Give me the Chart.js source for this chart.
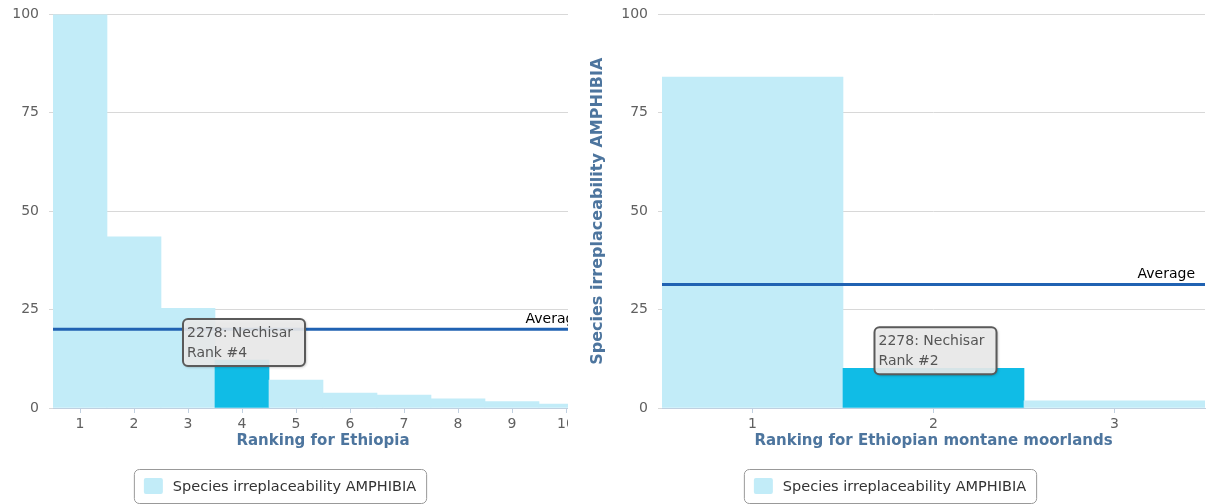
<!DOCTYPE html>
<html lang="en">
<head>
<meta charset="UTF-8">
<title>Species irreplaceability AMPHIBIA</title>
<script src="https://cdn.jsdelivr.net/npm/chart.js"></script>
<style>
  body { margin: 0; background: #fff; }
  #left { position: absolute; left: 0; top: 0; width: 568px; height: 504px; overflow: hidden; }
  #right { position: absolute; left: 580px; top: 0; width: 630px; height: 504px; overflow: hidden; }
  canvas { position: relative; top: -4px; }
</style>
</head>
<body>
<div id="left"><canvas id="ethiopiaChart" width="600" height="508"></canvas></div>
<div id="right"><canvas id="moorlandChart" width="630" height="508"></canvas></div>

<script>
// data
var ethiopiaRanks = ['1', '2', '3', '4', '5', '6', '7', '8', '9', '10'];
var ethiopiaValues = [100, 43.5, 25.3, 12.2, 7.1, 3.8, 3.3, 2.3, 1.6, 1.0];
var ethiopiaAverage = 20.0;
var ethiopiaHighlight = 3; // index of the Nechisar bar

var moorlandRanks = ['1', '2', '3'];
var moorlandValues = [84.1, 10.1, 1.8];
var moorlandAverage = 31.4;
var moorlandHighlight = 1;

var yTicks = [0, 25, 50, 75, 100];
var siteLabel = '2278: Nechisar';
var seriesName = 'Species irreplaceability AMPHIBIA';

var FONT = '"DejaVu Sans", sans-serif';
var LIGHT = '#c2ecf8';
var DARK = '#10bce6';
Chart.defaults.font.family = FONT;

// average line, site label box and the boxed legend
var extrasPlugin = {
    id: 'extras',
    afterDraw: function (chart, args, opts) {
        var ctx = chart.ctx;
        var area = chart.chartArea;
        var y = chart.scales.y.getPixelForValue(opts.average);
        ctx.save();

        ctx.strokeStyle = '#2062b2';
        ctx.lineWidth = 3;
        ctx.beginPath();
        ctx.moveTo(area.left, y);
        ctx.lineTo(area.right, y);
        ctx.stroke();
        ctx.font = '14px ' + FONT;
        ctx.fillStyle = '#000';
        ctx.textAlign = 'right';
        ctx.textBaseline = 'middle';
        ctx.fillText('Average', area.right - 10, y - 10);

        // label box over the highlighted bar
        var bar = chart.getDatasetMeta(0).data[opts.highlight];
        var w = 122, h = 47;
        var bx = bar.x - w / 2 + 2, by = bar.y + 6 - h;
        ctx.shadowColor = 'rgba(0,0,0,0.4)';
        ctx.shadowBlur = 3;
        ctx.shadowOffsetX = 1;
        ctx.shadowOffsetY = 1;
        ctx.beginPath();
        ctx.roundRect(bx, by, w, h, 5);
        ctx.fillStyle = 'rgba(243,243,243,0.88)';
        ctx.fill();
        ctx.shadowColor = 'transparent';
        ctx.lineWidth = 2;
        ctx.strokeStyle = '#5a5a5a';
        ctx.stroke();
        ctx.fillStyle = '#555';
        ctx.textAlign = 'left';
        ctx.fillText(siteLabel, bx + 4, by + 14);
        ctx.fillText('Rank #' + (opts.highlight + 1), bx + 4, by + 34);

        // legend
        ctx.font = '14.5px ' + FONT;
        var tw = ctx.measureText(seriesName).width;
        var lw = 39 + tw + 10, lh = 34;
        var lx = opts.legendX - lw / 2, ly = 473;
        ctx.beginPath();
        ctx.roundRect(lx + 0.5, ly + 0.5, lw, lh, 5);
        ctx.lineWidth = 1;
        ctx.strokeStyle = '#999';
        ctx.stroke();
        ctx.beginPath();
        ctx.roundRect(lx + 10, ly + 9, 19, 16, 2);
        ctx.fillStyle = LIGHT;
        ctx.fill();
        ctx.fillStyle = '#333';
        ctx.fillText(seriesName, lx + 39, ly + lh / 2 + 1);
        ctx.restore();
    }
};

function makeChart(id, ranks, values, highlight, average, xTitle, opt) {
    return new Chart(document.getElementById(id), {
        type: 'bar',
        data: {
            labels: ranks,
            datasets: [{
                label: seriesName,
                data: values,
                backgroundColor: values.map(function (v, i) { return i === highlight ? DARK : LIGHT; }),
                barPercentage: 1,
                categoryPercentage: 1,
                borderWidth: 0
            }]
        },
        options: {
            responsive: false,
            animation: false,
            layout: { padding: { top: 1, left: 0, right: opt.padRight, bottom: 46 } },
            plugins: {
                legend: { display: false },
                tooltip: { enabled: false },
                extras: { average: average, highlight: highlight, legendX: opt.legendX }
            },
            scales: {
                x: {
                    grid: { drawOnChartArea: false, offset: false, tickLength: 5, color: '#c0d0e0' },
                    border: { color: '#c0d0e0' },
                    ticks: { color: '#606060', font: { size: 14 }, padding: 3, maxRotation: 0, autoSkip: false },
                    title: {
                        display: true, text: xTitle, color: '#4d759e',
                        font: { size: 15, weight: 'bold' }, padding: { top: 0, bottom: 8 }
                    },
                    afterFit: function (s) { s.height = 50; }
                },
                y: {
                    min: 0,
                    max: 100,
                    afterBuildTicks: function (s) { s.ticks = yTicks.map(function (v) { return { value: v }; }); },
                    grid: { color: '#d8d8d8', tickLength: 4 },
                    border: { display: false },
                    ticks: { color: '#606060', font: { size: 14 }, padding: 10 },
                    title: {
                        display: opt.yTitle, text: seriesName, color: '#4d759e',
                        font: { size: 16, weight: 'bold' }, padding: { top: 8, bottom: 0 }
                    },
                    afterFit: function (s) { s.width = opt.yWidth; }
                }
            }
        },
        plugins: [extrasPlugin]
    });
}

makeChart('ethiopiaChart', ethiopiaRanks, ethiopiaValues, ethiopiaHighlight, ethiopiaAverage,
    'Ranking for Ethiopia', { padRight: 7, yWidth: 53, yTitle: false, legendX: 280 });
makeChart('moorlandChart', moorlandRanks, moorlandValues, moorlandHighlight, moorlandAverage,
    'Ranking for Ethiopian montane moorlands', { padRight: 5, yWidth: 82, yTitle: true, legendX: 310 });
</script>
</body>
</html>
